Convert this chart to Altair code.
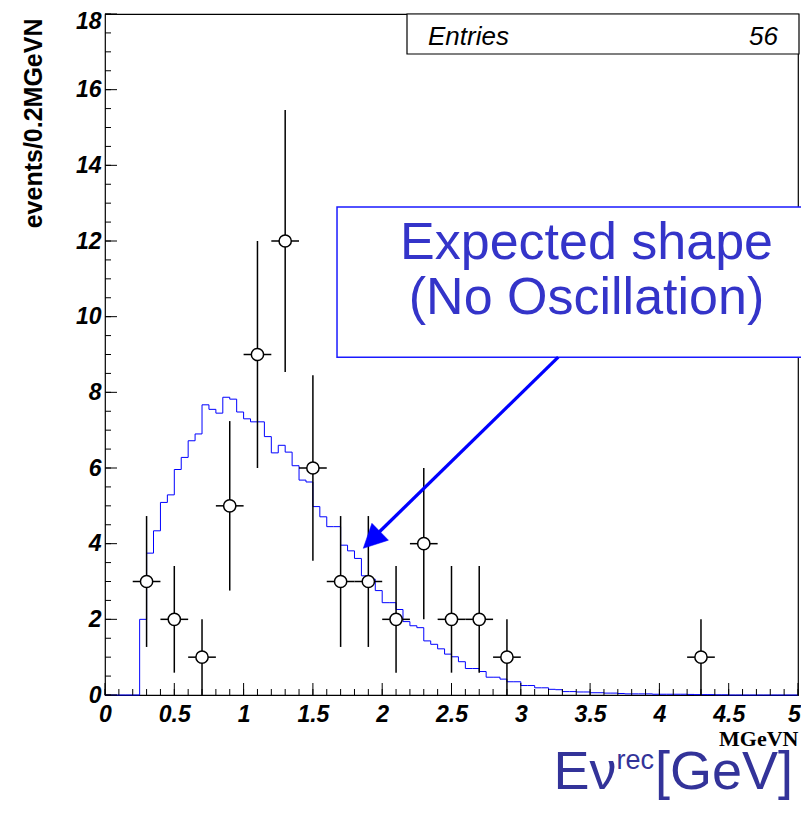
import altair as alt
import pandas as pd

# ---------------- data ----------------
BIN_WIDTH = 0.05
# expected (no oscillation) histogram, 100 bins of 0.05 from 0 to 5
hist_values = [
    0, 0, 0, 0, 0, 2.00, 3.75, 4.34, 5.09, 5.29,
    5.96, 6.28, 6.72, 6.90, 7.67, 7.55, 7.45, 7.87, 7.82, 7.48,
    7.30, 7.22, 7.22, 6.83, 6.40, 6.60, 6.42, 6.06, 5.68, 5.63,
    4.98, 4.71, 4.45, 4.45, 3.96, 3.81, 3.61, 3.15, 3.06, 2.76,
    2.44, 2.44, 2.26, 1.94, 1.83, 1.78, 1.43, 1.34, 1.22, 1.08,
    1.01, 0.88, 0.70, 0.70, 0.62, 0.47, 0.47, 0.42, 0.35, 0.35,
    0.25, 0.25, 0.19, 0.19, 0.15, 0.14, 0.09, 0.09, 0.08, 0.08,
    0.06, 0.06, 0.05, 0.05, 0.04, 0.03, 0.03, 0.03, 0.03, 0.02,
    0.02, 0.02, 0.02, 0.02, 0.015, 0.01, 0.01, 0.01, 0.005, 0.005,
    0, 0, 0, 0, 0, 0, 0, 0, 0, 0,
]

# observed events (0.2 wide bins)
point_x = [0.3, 0.5, 0.7, 0.9, 1.1, 1.3, 1.5, 1.7, 1.9, 2.1, 2.3, 2.5, 2.7, 2.9, 4.3]
point_y = [3, 2, 1, 5, 9, 12, 6, 3, 3, 2, 4, 2, 2, 1, 1]
point_yerr = [1.73, 1.41, 1.00, 2.24, 3.00, 3.46, 2.45, 1.73, 1.73, 1.41, 2.00, 1.41, 1.41, 1.00, 1.00]
point_xerr = [0.1] * len(point_x)

x_major = [0, 0.5, 1, 1.5, 2, 2.5, 3, 3.5, 4, 4.5, 5]
x_minor = [round(i * 0.1, 1) for i in range(51)]
y_major = [0, 2, 4, 6, 8, 10, 12, 14, 16, 18]
y_minor = [i * 0.5 for i in range(37)]

entries_label = "Entries"
entries_value = "56"

note_lines = ["Expected shape", "(No Oscillation)"]
note_box_x = [1.674, 5.08]
note_box_y = [8.93, 12.9]
note_text_x = [3.474, 3.474]
note_text_y = [11.52, 10.06]
arrow_x = [3.27, 1.912]
arrow_y = [8.93, 4.07]
arrow_tip = [1.8636, 3.878]

# ---------------- layout ----------------
W, H = 693, 681
FONT = "Liberation Sans"

hist_df = pd.DataFrame({
    "x": [i * BIN_WIDTH for i in range(len(hist_values))] + [5.0],
    "y": hist_values + [hist_values[-1]],
})
pts = pd.DataFrame({
    "x": point_x, "y": point_y,
    "ylo": [v - e for v, e in zip(point_y, point_yerr)],
    "yhi": [v + e for v, e in zip(point_y, point_yerr)],
    "xlo": [v - e for v, e in zip(point_x, point_xerr)],
    "xhi": [v + e for v, e in zip(point_x, point_xerr)],
})

xs = alt.Scale(domain=[0, 5], nice=False, zero=False)
ys = alt.Scale(domain=[0, 18], nice=False, zero=False)

x_axis = alt.Axis(
    values=x_major, labelExpr="'' + datum.value", grid=False, ticks=False, tickSize=0,
    domain=False, labelFont=FONT, labelFontSize=23, labelFontWeight="bold",
    labelFontStyle="italic", labelColor="black", labelPadding=8, labelFlush=False,
    labelOffset={"condition": {"test": "datum.value == 5", "value": -4}, "value": 0},
    title="MGeVN", titleFont="Liberation Serif", titleFontSize=22, titleFontWeight="bold",
    titleColor="black", titleX=W, titleY=50, titleAlign="right", titleBaseline="alphabetic",
)
y_axis = alt.Axis(
    values=y_major, labelExpr="'' + datum.value", grid=False, ticks=False, tickSize=0,
    domain=False, labelFont=FONT, labelFontSize=23, labelFontWeight="bold",
    labelFontStyle="italic", labelColor="black", labelPadding=4, labelFlush=False,
    labelOffset={"condition": {"test": "datum.value == 18", "value": 7.5}, "value": 0},
    title="events/0.2MGeVN", titleFont=FONT, titleFontSize=25, titleFontWeight="bold",
    titleColor="black", titleX=-72, titleY=4, titleAngle=270, titleAlign="right",
    titleBaseline="middle",
)


def X(field, **kw):
    return alt.X(field, scale=xs, axis=x_axis, **kw)


def Y(field, **kw):
    return alt.Y(field, scale=ys, axis=y_axis, **kw)


hist = alt.Chart(hist_df).mark_line(interpolate="step-after", color="#0000ff", strokeWidth=1).encode(
    x=X("x:Q"), y=Y("y:Q"),
)

vbar = alt.Chart(pts).mark_rule(color="black", strokeWidth=1.5).encode(
    x=X("x:Q"), y=Y("ylo:Q"), y2="yhi:Q",
)
hbar = alt.Chart(pts).mark_rule(color="black", strokeWidth=1.5).encode(
    x=X("xlo:Q"), x2="xhi:Q", y=Y("y:Q"),
)
circles = alt.Chart(pts).mark_point(
    shape="circle", filled=True, fill="white", stroke="black", strokeWidth=1.5, size=150, opacity=1
).encode(x=X("x:Q"), y=Y("y:Q"))

xmaj = alt.Chart(pd.DataFrame({"v": x_major})).mark_rule(color="black", strokeWidth=1).encode(
    x=X("v:Q"), y=alt.value(H), y2=alt.value(H - 12))
xmin = alt.Chart(pd.DataFrame({"v": x_minor})).mark_rule(color="black", strokeWidth=1).encode(
    x=X("v:Q"), y=alt.value(H), y2=alt.value(H - 6))
ymaj = alt.Chart(pd.DataFrame({"v": y_major})).mark_rule(color="black", strokeWidth=1).encode(
    y=Y("v:Q"), x=alt.value(0), x2=alt.value(12))
ymin = alt.Chart(pd.DataFrame({"v": y_minor})).mark_rule(color="black", strokeWidth=1).encode(
    y=Y("v:Q"), x=alt.value(0), x2=alt.value(6))

one = pd.DataFrame({"a": [0]})
stats_box = alt.Chart(one).mark_rect(fill="white", stroke="black", strokeWidth=1.2).encode(
    x=alt.value(302), x2=alt.value(694), y=alt.value(0), y2=alt.value(40))
stats_l = alt.Chart(one).mark_text(text=entries_label, font=FONT, fontSize=26, fontStyle="italic",
                                    align="left", baseline="alphabetic", color="black").encode(
    x=alt.value(323), y=alt.value(31))
stats_r = alt.Chart(one).mark_text(text=entries_value, font=FONT, fontSize=26, fontStyle="italic",
                                    align="right", baseline="alphabetic", color="black").encode(
    x=alt.value(673), y=alt.value(31))

note_box = alt.Chart(pd.DataFrame({"x0": [note_box_x[0]], "x1": [note_box_x[1]],
                                   "y0": [note_box_y[0]], "y1": [note_box_y[1]]})).mark_rect(
    fill="white", stroke="#1a1aff", strokeWidth=1.5).encode(
    x=X("x0:Q"), x2="x1:Q", y=Y("y0:Q"), y2="y1:Q")
note_text = alt.Chart(pd.DataFrame({"x": note_text_x, "y": note_text_y, "t": note_lines})).mark_text(
    font=FONT, fontSize=52, color="#3434c9", align="center", baseline="alphabetic").encode(
    x=X("x:Q"), y=Y("y:Q"), text="t:N")

shaft = alt.Chart(pd.DataFrame({"x": arrow_x, "y": arrow_y, "o": [0, 1]})).mark_line(
    color="#0000ff", strokeWidth=3.3).encode(x=X("x:Q"), y=Y("y:Q"), order="o:Q")
head = alt.Chart(pd.DataFrame({"x": [arrow_tip[0]], "y": [arrow_tip[1]]})).mark_point(
    shape="M0,0L-0.5,1L0.5,1Z", filled=True, fill="#0000ff", stroke="#0000ff", strokeWidth=0.5,
    size=2230, angle=225.6, opacity=1).encode(x=X("x:Q"), y=Y("y:Q"))

BIG = "#333399"
big1 = alt.Chart(one).mark_text(text="Eν", font=FONT, fontSize=54, color=BIG, align="left",
                                baseline="alphabetic").encode(x=alt.value(448.5), y=alt.value(774.5))
big2 = alt.Chart(one).mark_text(text="rec", font=FONT, fontSize=27, color=BIG, align="left",
                                baseline="alphabetic").encode(x=alt.value(511.5), y=alt.value(755))
big3 = alt.Chart(one).mark_text(text="[GeV]", font=FONT, fontSize=54, color=BIG, align="left",
                                baseline="alphabetic").encode(x=alt.value(550), y=alt.value(774.5))

chart = alt.layer(
    hist, vbar, hbar, circles, xmaj, xmin, ymaj, ymin,
    stats_box, stats_l, stats_r, note_box, note_text, shaft, head, big1, big2, big3,
).properties(
    width=W, height=H,
    padding={"left": 97, "top": 6, "right": 3, "bottom": 105},
    autosize=alt.AutoSizeParams(type="none"),
    background="white",
).configure_view(stroke="black", strokeWidth=1.2)

chart.save("out.html", embed_options={"renderer": "svg", "actions": False})
